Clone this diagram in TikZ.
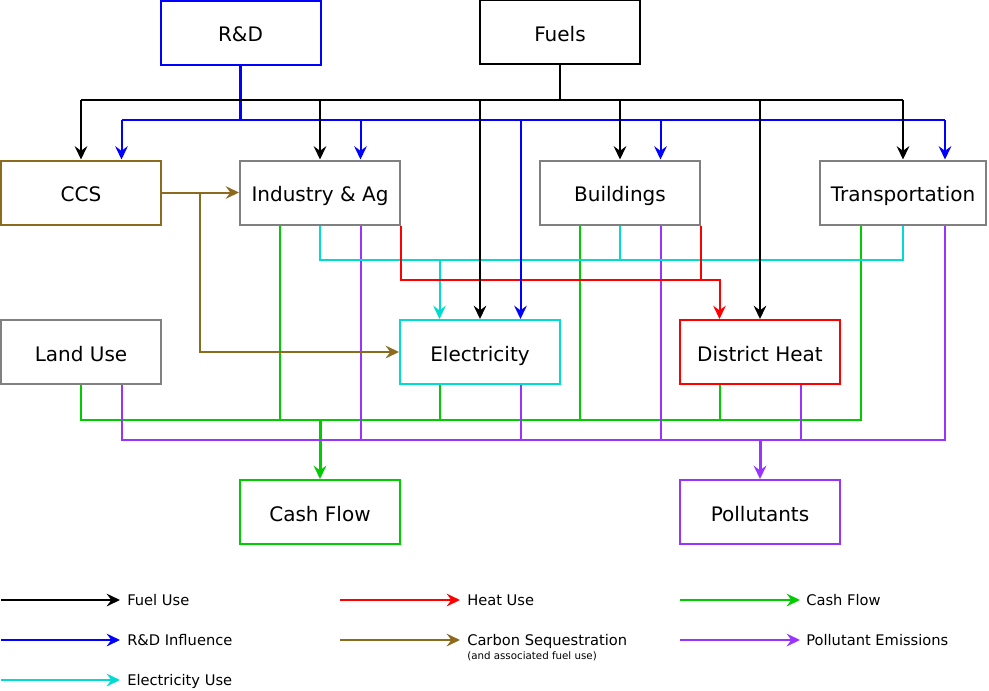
\documentclass[tikz,border=0pt]{standalone}
\usepackage{fontspec}
\setmainfont{DejaVu Sans}
\usetikzlibrary{arrows.meta,calc}
\definecolor{cBlue}{RGB}{0,0,255}
\definecolor{cCyan}{RGB}{0,220,210}
\definecolor{cRed}{RGB}{255,0,0}
\definecolor{cBrown}{RGB}{140,106,30}
\definecolor{cGreen}{RGB}{0,204,0}
\definecolor{cPurple}{RGB}{153,51,255}
\definecolor{cGray}{RGB}{128,128,128}
\begin{document}
\begin{tikzpicture}[x=0.75pt,y=-0.75pt,
  box/.style={draw=#1,line width=1.5pt,minimum width=120pt,minimum height=48pt,inner sep=0pt,
    font=\fontsize{15}{18}\selectfont,text height=13.8pt,text depth=0pt},
  conn/.style={line width=1.5pt},
  fuel/.style={conn,draw=black},
  rdl/.style={conn,draw=cBlue},
  elu/.style={conn,draw=cCyan},
  heat/.style={conn,draw=cRed},
  csl/.style={conn,draw=cBrown},
  cashl/.style={conn,draw=cGreen},
  poll/.style={conn,draw=cPurple},
  stem/.style={line width=2.25pt},
  tip/.style={-{Stealth[length=10pt,width=9.5pt,inset=3.5pt]}},
  leg/.style={anchor=base west,inner sep=0pt,font=\fontsize{11}{13}\selectfont},
]
\useasboundingbox (0,0) rectangle (989,690);

% boxes
\node[box=cBlue] (rd) at (240.5,32.5) {R\&D};
\node[box=black] (fuels) at (560,32) {Fuels};
\node[box=cBrown] (ccs) at (81,192.5) {CCS};
\node[box=cGray] (ind) at (320,192.5) {Industry \& Ag};
\node[box=cGray] (bld) at (620,192.5) {Buildings};
\node[box=cGray,minimum width=124.5pt] (trans) at (903,192.5) {Transportation};
\node[box=cGray] (land) at (81,352) {Land Use};
\node[box=cCyan] (elec) at (480,352) {Electricity};
\node[box=cRed] (dh) at (760,352) {District Heat};
\node[box=cGreen] (cash) at (320,512) {Cash Flow};
\node[box=cPurple] (pollut) at (760,512) {Pollutants};

% quarter points
\foreach \n in {ccs,ind,bld,trans,land,elec,dh}{
  \coordinate (\n-t1) at ($(\n.north)!0.5!(\n.north west)$);
  \coordinate (\n-t3) at ($(\n.north)!0.5!(\n.north east)$);
  \coordinate (\n-b1) at ($(\n.south)!0.5!(\n.south west)$);
  \coordinate (\n-b3) at ($(\n.south)!0.5!(\n.south east)$);
}

% bus levels
\coordinate (fy) at (0,100);
\coordinate (by) at (0,120);
\coordinate (cy) at (0,260);
\coordinate (ry) at (0,280);
\coordinate (gy) at (0,420);
\coordinate (py) at (0,440);
\coordinate (bx) at (200,0);

% green (cash flow)
\draw[cashl] (land.south) |- (trans-b1 |- gy) -- (trans-b1);
\foreach \n in {ind,elec,bld,dh} \draw[cashl] (\n-b1) -- (\n-b1 |- gy);
\draw[cashl,stem,tip] (cash.north |- gy) -- (cash.north);

% purple (pollutants)
\draw[poll] (land-b3) |- (trans-b3 |- py) -- (trans-b3);
\foreach \n in {ind,elec,bld,dh} \draw[poll] (\n-b3) -- (\n-b3 |- py);
\draw[poll,stem,tip] (pollut.north |- py) -- (pollut.north);

% cyan (electricity)
\draw[elu] (ind.south) |- (trans.south |- cy) -- (trans.south);
\draw[elu] (bld.south) -- (bld.south |- cy);
\draw[elu,tip] (elec-t1 |- cy) -- (elec-t1);

% red (heat)
\draw[heat,tip] (ind.south east) |- (dh-t1 |- ry) -- (dh-t1);
\draw[heat] (bld.south east) -- (bld.south east |- ry);

% brown (carbon sequestration)
\draw[csl,tip] (ccs.east) -- (ind.west);
\draw[csl,tip] (bx |- ccs.east) |- (elec.west);

% blue (R&D)
\draw[rdl,stem] (rd.south) -- (rd.south |- by);
\draw[rdl] (ccs-t3 |- by) -- (trans-t3 |- by);
\foreach \n in {ccs,ind,elec,bld,trans} \draw[rdl,tip] (\n-t3 |- by) -- (\n-t3);

% black (fuel)
\draw[fuel] (fuels.south) -- (fuels.south |- fy);
\draw[fuel] (ccs.north |- fy) -- (trans.north |- fy);
\foreach \n in {ccs,ind,bld,trans,elec,dh} \draw[fuel,tip] (\n.north |- fy) -- (\n.north);

% legend
\coordinate (L1s) at (1,600);   \coordinate (L1e) at (120,600);
\coordinate (L2s) at (1,640);   \coordinate (L2e) at (120,640);
\coordinate (L3s) at (1,680);   \coordinate (L3e) at (120,680);
\coordinate (L4s) at (340,600); \coordinate (L4e) at (460,600);
\coordinate (L5s) at (340,640); \coordinate (L5e) at (460,640);
\coordinate (L6s) at (680,600); \coordinate (L6e) at (800,600);
\coordinate (L7s) at (680,640); \coordinate (L7e) at (800,640);
\draw[fuel,tip] (L1s) -- (L1e);
\draw[rdl,tip] (L2s) -- (L2e);
\draw[elu,tip] (L3s) -- (L3e);
\draw[heat,tip] (L4s) -- (L4e);
\draw[csl,tip] (L5s) -- (L5e);
\draw[cashl,tip] (L6s) -- (L6e);
\draw[poll,tip] (L7s) -- (L7e);
\node[leg] (T1) at (127,605.5) {Fuel Use};
\node[leg] (T2) at (127,645.5) {R\&D Influence};
\node[leg] (T3) at (127,685.5) {Electricity Use};
\node[leg] (T4) at (467,605.5) {Heat Use};
\node[leg] (T5) at (467,645.5) {Carbon Sequestration};
\node[leg,font=\fontsize{7.7}{9}\selectfont] (T5b) at (467,659) {(and associated fuel use)};
\node[leg] (T6) at (806,605.5) {Cash Flow};
\node[leg] (T7) at (806,645.5) {Pollutant Emissions};
\end{tikzpicture}
\end{document}
